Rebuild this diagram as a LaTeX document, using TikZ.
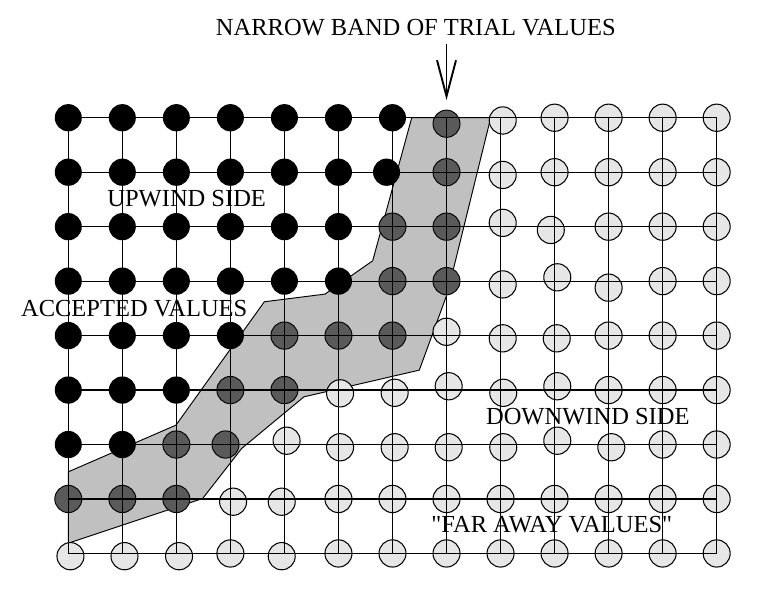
\documentclass[tikz,border=0pt]{standalone}
\usepackage{fontspec}
\setmainfont{Liberation Serif}[Ligatures=TeXOff]
\usepackage{tikz}
\usetikzlibrary{arrows.meta}
\definecolor{bandgray}{RGB}{192,192,192}
\definecolor{trialgray}{RGB}{90,90,90}
\definecolor{fargray}{RGB}{230,230,230}

\begin{document}
\begin{tikzpicture}[x=1cm, y=1.008cm,
    acccircle/.style={fill=black},
    trialcircle/.style={fill=trialgray, draw=black, line width=0.5pt},
    farcircle/.style={fill=fargray, draw=black, line width=0.55pt},
    gridline/.style={draw=black, line width=0.6pt},
    sidetext/.style={font=\fontsize{12.9}{15}\selectfont, inner sep=0pt}]
    \useasboundingbox (-1.264,-0.931) rectangle (13.135,10.162);
    % narrow band of trial values
    \filldraw[fill=bandgray, draw=black, line width=0.5pt] (6.356,8) -- (7.818,8) -- (7.018,4.781)
        -- (6.496,3.366) -- (4.362,2.876) -- (3.209,1.928) -- (2.487,1.010) -- (0,0.189)
        -- (0,1.499) -- (1.993,2.356) -- (3.628,4.621) -- (4.751,4.762) -- (5.634,5.374) -- cycle;
    % accepted values
    \foreach \j/\n in {8/6, 7/5, 6/5, 5/5, 4/3, 3/2, 2/1}
        \foreach \i in {0,...,\n}
            \fill[acccircle] (\i,\j) circle (0.25);
    \fill[acccircle] (5.89,7) circle (0.25);
    % trial values
    \foreach \p in {(7,7.89), (7,7), (6,6), (7,6), (6,5), (7,5), (4,4), (5,4), (6,4),
                    (3,3), (4,3), (2,2), (2.91,2), (0,1), (1,1), (2,1)}
        \draw[trialcircle] \p circle (0.25);
    % far away values
    \foreach \j/\a in {8/9, 7/9, 6/10, 5/11, 4/10, 3/10, 2/11, 1/5, 0/5}
        \foreach \i in {\a,...,12}
            \draw[farcircle] (\i,\j) circle (0.25);
    \foreach \p in {(8.04,7.95), (8.04,6.95), (8.04,6.07), (8.93,5.94), (8.04,4.94), (9.05,5.07),
                    (10,4.88), (7,4.07), (8.04,3.95), (9.04,3.95), (5.03,2.94), (6.04,2.95),
                    (7.04,3.07), (8.05,2.95), (9.05,3.07), (4.04,2.07), (5.03,1.95), (6.04,1.95),
                    (7.04,1.95), (8.05,1.95), (9.05,2.07), (10.05,1.95), (3.05,0.95), (3.95,0.95),
                    (0.04,-0.05), (1.04,-0.05), (2.05,-0.05), (3,0), (3.95,-0.05)}
        \draw[farcircle] \p circle (0.25);
    % grid
    \foreach \i in {0,...,12}
        \draw[gridline] (\i,0) -- (\i,8);
    \foreach \j in {0,...,8}
        \draw[gridline] (0,\j) -- (12,\j);
    % labels
    \node[sidetext] (title) at (6.432,9.651) {NARROW BAND OF TRIAL VALUES};
    \node[sidetext] (upwind) at (2.191,6.512) {UPWIND SIDE};
    \node[sidetext] (accepted) at (1.220,4.505) {ACCEPTED VALUES};
    \node[sidetext] (downwind) at (9.615,2.518) {DOWNWIND SIDE};
    \node[sidetext] (faraway) at (8.947,0.525) {"FAR AWAY VALUES"};
    % arrow to the band
    \coordinate (bandtip) at (7,8.325);
    \draw[line width=1pt, -{Straight Barb[length=19pt, width=10pt]}] (title.south -| bandtip) ++(0,-0.13) -- (bandtip);
\end{tikzpicture}
\end{document}
